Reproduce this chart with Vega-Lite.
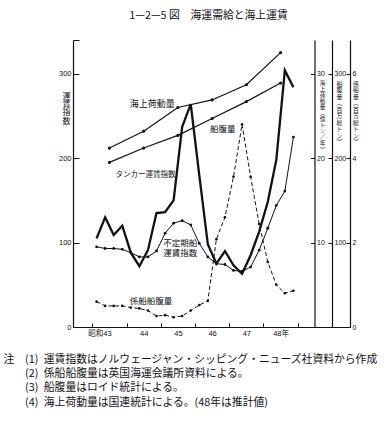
{
  "$schema": "https://vega.github.io/schema/vega-lite/v6.json",
  "width": 277,
  "height": 287,
  "autosize": "none",
  "padding": {"left": 73, "top": 40, "right": 34, "bottom": 108},
  "background": "white",
  "config": {
    "view": {"stroke": null},
    "axis": {
      "grid": false,
      "domainColor": "#111",
      "domainWidth": 1.2,
      "tickColor": "#111",
      "tickWidth": 1,
      "labelColor": "#111",
      "titleColor": "#111",
      "labelFont": "Liberation Sans, Noto Sans CJK JP",
      "titleFont": "Noto Sans CJK JP",
      "titleFontWeight": "normal",
      "labelFlush": false,
      "labelOverlap": false
    },
    "text": {"font": "Noto Sans CJK JP", "color": "#111"}
  },
  "title": {
    "text": "1—2—5 図　海運需給と海上運賃",
    "frame": "group",
    "anchor": "middle",
    "dx": -3,
    "offset": 9,
    "baseline": "middle",
    "font": "Noto Sans CJK JP",
    "fontSize": 10.8,
    "fontWeight": "normal",
    "color": "#111"
  },
  "datasets": {
    "freight": [
      {"s": "タンカー運賃指数", "t": 43.125, "v": 105},
      {"s": "タンカー運賃指数", "t": 43.375, "v": 130},
      {"s": "タンカー運賃指数", "t": 43.625, "v": 109},
      {"s": "タンカー運賃指数", "t": 43.875, "v": 120},
      {"s": "タンカー運賃指数", "t": 44.125, "v": 88},
      {"s": "タンカー運賃指数", "t": 44.375, "v": 72},
      {"s": "タンカー運賃指数", "t": 44.625, "v": 91},
      {"s": "タンカー運賃指数", "t": 44.875, "v": 135},
      {"s": "タンカー運賃指数", "t": 45.125, "v": 136},
      {"s": "タンカー運賃指数", "t": 45.375, "v": 150},
      {"s": "タンカー運賃指数", "t": 45.625, "v": 237},
      {"s": "タンカー運賃指数", "t": 45.875, "v": 264},
      {"s": "タンカー運賃指数", "t": 46.125, "v": 180},
      {"s": "タンカー運賃指数", "t": 46.375, "v": 98},
      {"s": "タンカー運賃指数", "t": 46.625, "v": 75},
      {"s": "タンカー運賃指数", "t": 46.875, "v": 90},
      {"s": "タンカー運賃指数", "t": 47.125, "v": 73},
      {"s": "タンカー運賃指数", "t": 47.375, "v": 63},
      {"s": "タンカー運賃指数", "t": 47.625, "v": 85},
      {"s": "タンカー運賃指数", "t": 47.875, "v": 113},
      {"s": "タンカー運賃指数", "t": 48.125, "v": 148},
      {"s": "タンカー運賃指数", "t": 48.375, "v": 198},
      {"s": "タンカー運賃指数", "t": 48.625, "v": 304},
      {"s": "タンカー運賃指数", "t": 48.875, "v": 284},
      {"s": "不定期船運賃指数", "t": 43.125, "v": 95},
      {"s": "不定期船運賃指数", "t": 43.375, "v": 93},
      {"s": "不定期船運賃指数", "t": 43.625, "v": 93},
      {"s": "不定期船運賃指数", "t": 43.875, "v": 92},
      {"s": "不定期船運賃指数", "t": 44.125, "v": 88},
      {"s": "不定期船運賃指数", "t": 44.375, "v": 83},
      {"s": "不定期船運賃指数", "t": 44.625, "v": 83},
      {"s": "不定期船運賃指数", "t": 44.875, "v": 90},
      {"s": "不定期船運賃指数", "t": 45.125, "v": 111},
      {"s": "不定期船運賃指数", "t": 45.375, "v": 123},
      {"s": "不定期船運賃指数", "t": 45.625, "v": 126},
      {"s": "不定期船運賃指数", "t": 45.875, "v": 121},
      {"s": "不定期船運賃指数", "t": 46.125, "v": 99},
      {"s": "不定期船運賃指数", "t": 46.375, "v": 83},
      {"s": "不定期船運賃指数", "t": 46.625, "v": 75},
      {"s": "不定期船運賃指数", "t": 46.875, "v": 74},
      {"s": "不定期船運賃指数", "t": 47.125, "v": 67},
      {"s": "不定期船運賃指数", "t": 47.375, "v": 66},
      {"s": "不定期船運賃指数", "t": 47.625, "v": 71},
      {"s": "不定期船運賃指数", "t": 47.875, "v": 91},
      {"s": "不定期船運賃指数", "t": 48.125, "v": 117},
      {"s": "不定期船運賃指数", "t": 48.375, "v": 144},
      {"s": "不定期船運賃指数", "t": 48.625, "v": 161},
      {"s": "不定期船運賃指数", "t": 48.875, "v": 225}
    ],
    "cargo": [
      {"s": "海上荷動量", "t": 43.5, "v": 21.2},
      {"s": "海上荷動量", "t": 44.5, "v": 23.2},
      {"s": "海上荷動量", "t": 45.5, "v": 26.0},
      {"s": "海上荷動量", "t": 46.5, "v": 26.9},
      {"s": "海上荷動量", "t": 47.5, "v": 28.7},
      {"s": "海上荷動量", "t": 48.5, "v": 32.5}
    ],
    "tonnage": [
      {"s": "船腹量", "t": 43.5, "v": 195},
      {"s": "船腹量", "t": 44.5, "v": 212},
      {"s": "船腹量", "t": 45.5, "v": 227},
      {"s": "船腹量", "t": 46.5, "v": 247},
      {"s": "船腹量", "t": 47.5, "v": 267},
      {"s": "船腹量", "t": 48.5, "v": 289}
    ],
    "laidup": [
      {"s": "係船船腹量", "t": 43.125, "v": 0.60},
      {"s": "係船船腹量", "t": 43.375, "v": 0.50},
      {"s": "係船船腹量", "t": 43.625, "v": 0.50},
      {"s": "係船船腹量", "t": 43.875, "v": 0.50},
      {"s": "係船船腹量", "t": 44.125, "v": 0.46},
      {"s": "係船船腹量", "t": 44.375, "v": 0.44},
      {"s": "係船船腹量", "t": 44.625, "v": 0.39},
      {"s": "係船船腹量", "t": 44.875, "v": 0.26},
      {"s": "係船船腹量", "t": 45.125, "v": 0.28},
      {"s": "係船船腹量", "t": 45.375, "v": 0.23},
      {"s": "係船船腹量", "t": 45.625, "v": 0.26},
      {"s": "係船船腹量", "t": 45.875, "v": 0.39},
      {"s": "係船船腹量", "t": 46.125, "v": 0.52},
      {"s": "係船船腹量", "t": 46.375, "v": 0.62},
      {"s": "係船船腹量", "t": 46.625, "v": 2.08},
      {"s": "係船船腹量", "t": 46.875, "v": 2.60},
      {"s": "係船船腹量", "t": 47.125, "v": 3.56},
      {"s": "係船船腹量", "t": 47.375, "v": 4.80},
      {"s": "係船船腹量", "t": 47.625, "v": 3.56},
      {"s": "係船船腹量", "t": 47.875, "v": 2.44},
      {"s": "係船船腹量", "t": 48.125, "v": 1.54},
      {"s": "係船船腹量", "t": 48.375, "v": 1.00},
      {"s": "係船船腹量", "t": 48.625, "v": 0.80},
      {"s": "係船船腹量", "t": 48.875, "v": 0.86}
    ]
  },
  "encoding": {
    "x": {
      "field": "t",
      "type": "quantitative",
      "scale": {"domain": [42.436, 50.528], "nice": false, "zero": false},
      "axis": {
        "values": [43, 43.5, 44, 44.5, 45, 45.5, 46, 46.5, 47, 47.5, 48, 48.5, 49],
        "tickSize": -4,
        "tickOpacity": {"condition": {"test": "datum.value % 1 != 0", "value": 0}, "value": 1},
        "labelExpr": "datum.value == 43.5 ? '昭和43' : datum.value == 48.5 ? '48年' : (datum.value % 1 == 0.5 ? format(floor(datum.value), 'd') : '')",
        "labelOffset": {"condition": {"test": "datum.value == 43.5", "value": -10}, "value": 0},
        "labelPadding": 6,
        "labelFontSize": 7.5,
        "title": [
          "注　(1)\u2002運賃指数はノルウェージャン・シッピング・ニューズ社資料から作成",
          "\u200B　　(2)\u2002係船船腹量は英国海運会議所資料による。",
          "\u200B　　(3)\u2002船腹量はロイド統計による。",
          "\u200B　　(4)\u2002海上荷動量は国連統計による。(48年は推計値)"
        ],
        "titleAlign": "left",
        "titleAnchor": "start",
        "titleX": -70,
        "titleY": 35.4,
        "titleBaseline": "alphabetic",
        "titleFontSize": 10.8,
        "titleLineHeight": 14.3
      }
    }
  },
  "layer": [
    {
      "data": {"name": "freight"},
      "encoding": {
        "y": {
          "field": "v",
          "type": "quantitative",
          "scale": {"domain": [0, 340], "nice": false, "zero": true},
          "axis": {
            "orient": "left",
            "values": [0, 100, 200, 300, 340],
            "labelExpr": "datum.value == 340 ? '' : datum.label",
            "tickSize": -6,
            "labelPadding": 8,
            "labelFontSize": 7.5,
            "title": ["運", "賃", "指", "数"],
            "titleAngle": 0,
            "titleAlign": "center",
            "titleBaseline": "top",
            "titleX": -7,
            "titleY": 52,
            "titleFontSize": 8,
            "titleLineHeight": 8.4
          }
        }
      },
      "layer": [
        {
          "transform": [{"filter": "datum.s == 'タンカー運賃指数'"}],
          "mark": {"type": "line", "color": "#111", "strokeWidth": 2.3, "strokeJoin": "miter"}
        },
        {
          "transform": [{"filter": "datum.s == '不定期船運賃指数'"}],
          "mark": {"type": "line", "color": "#111", "strokeWidth": 1, "point": {"filled": true, "size": 8, "color": "#111"}}
        },
        {
          "transform": [{"filter": "datum.s == 'タンカー運賃指数' && datum.t == 45.375"}],
          "mark": {"type": "text", "align": "right", "baseline": "middle", "dx": 2, "dy": -25, "fontSize": 7.5},
          "encoding": {"text": {"field": "s"}}
        },
        {
          "transform": [{"filter": "datum.s == '不定期船運賃指数' && datum.t == 45.625"}],
          "mark": {"type": "text", "align": "center", "baseline": "top", "dx": -2, "dy": 18.5, "fontSize": 8.5, "lineHeight": 9.5},
          "encoding": {"text": {"value": ["不定期船", "運賃指数"]}}
        }
      ]
    },
    {
      "data": {"name": "cargo"},
      "encoding": {
        "y": {
          "field": "v",
          "type": "quantitative",
          "scale": {"domain": [0, 34], "nice": false, "zero": true},
          "axis": {
            "orient": "right",
            "offset": -35.5,
            "values": [10, 20, 30],
            "tickSize": -4,
            "labelPadding": 6,
            "labelFontSize": 7,
            "title": ["海", "上", "荷", "動", "量", "︵", "億", "ト", "ン", "／", "年", "︶"],
            "titleAngle": 0,
            "titleAlign": "center",
            "titleBaseline": "top",
            "titleX": 7.5,
            "titleY": 40,
            "titleFontSize": 5.6,
            "titleLineHeight": 6.1
          }
        }
      },
      "layer": [
        {"mark": {"type": "line", "color": "#111", "strokeWidth": 1.2, "point": {"filled": true, "size": 10, "color": "#111"}}},
        {
          "transform": [{"filter": "datum.t == 45.5"}],
          "mark": {"type": "text", "align": "right", "baseline": "middle", "dx": -3, "dy": -4, "fontSize": 9},
          "encoding": {"text": {"field": "s"}}
        }
      ]
    },
    {
      "data": {"name": "tonnage"},
      "encoding": {
        "y": {
          "field": "v",
          "type": "quantitative",
          "scale": {"domain": [0, 340], "nice": false, "zero": true},
          "axis": {
            "orient": "right",
            "offset": -18,
            "values": [100, 200, 300],
            "tickSize": -4,
            "labelPadding": 6,
            "labelFontSize": 7,
            "title": ["船", "腹", "量", "︵", "百", "万", "総", "ト", "ン", "︶"],
            "titleAngle": 0,
            "titleAlign": "center",
            "titleBaseline": "top",
            "titleX": 7,
            "titleY": 40,
            "titleFontSize": 5.8,
            "titleLineHeight": 6.5
          }
        }
      },
      "layer": [
        {"mark": {"type": "line", "color": "#111", "strokeWidth": 1.2, "point": {"filled": true, "size": 10, "color": "#111"}}},
        {
          "transform": [{"filter": "datum.t == 46.5"}],
          "mark": {"type": "text", "align": "left", "baseline": "middle", "dx": -2, "dy": 10, "fontSize": 8.5},
          "encoding": {"text": {"field": "s"}}
        }
      ]
    },
    {
      "data": {"name": "laidup"},
      "encoding": {
        "y": {
          "field": "v",
          "type": "quantitative",
          "scale": {"domain": [0, 6.8], "nice": false, "zero": true},
          "axis": {
            "orient": "right",
            "offset": 0,
            "values": [0, 2, 4, 6],
            "tickSize": -4,
            "labelPadding": 6,
            "labelFontSize": 7,
            "title": ["係", "船", "量", "︵", "百", "万", "総", "ト", "ン", "︶"],
            "titleAngle": 0,
            "titleAlign": "center",
            "titleBaseline": "top",
            "titleX": 5.5,
            "titleY": 40,
            "titleFontSize": 5.8,
            "titleLineHeight": 6.5
          }
        }
      },
      "layer": [
        {"mark": {"type": "line", "color": "#111", "strokeWidth": 1, "strokeDash": [4, 2.5], "point": {"filled": true, "size": 7, "color": "#111"}}},
        {
          "transform": [{"filter": "datum.t == 44.625"}],
          "mark": {"type": "text", "align": "center", "baseline": "middle", "dx": 3, "dy": -10, "fontSize": 8.5},
          "encoding": {"text": {"field": "s"}}
        }
      ]
    }
  ],
  "resolve": {"scale": {"y": "independent"}}
}
